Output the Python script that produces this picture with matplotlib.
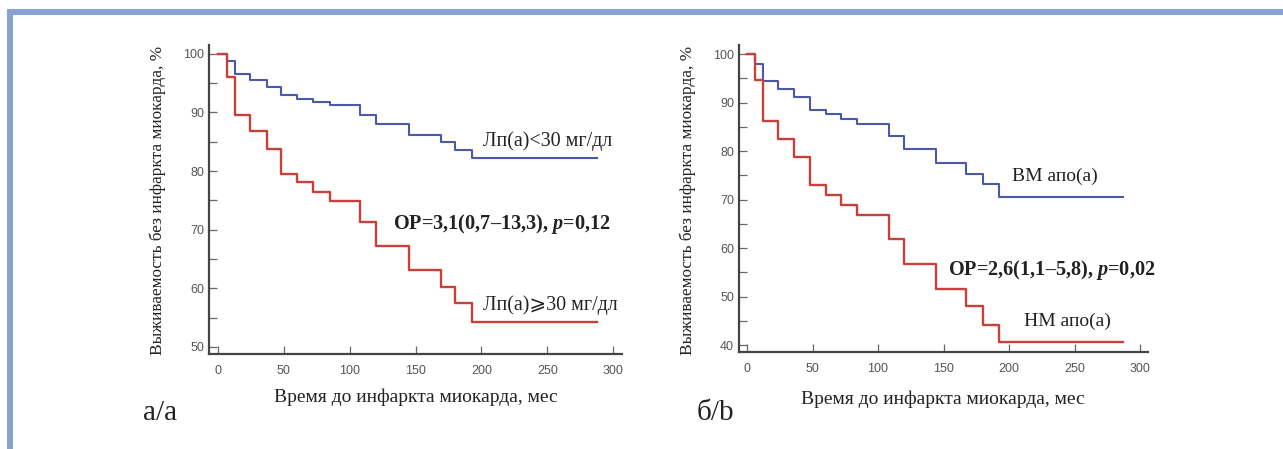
import matplotlib
matplotlib.use("Agg")
import matplotlib.pyplot as plt
from matplotlib.patches import Rectangle
from matplotlib.ticker import MultipleLocator

plt.rcParams["mathtext.fontset"] = "custom"
plt.rcParams["mathtext.it"] = "Liberation Serif:italic:bold"
plt.rcParams["mathtext.rm"] = "Liberation Serif:bold"

# panel a: Lp(a)
t_a = [0, 7, 13, 24, 37, 48, 60, 72, 85, 108, 120, 145, 169, 180, 193, 288]
low_lpa = [100, 98.8, 96.6, 95.5, 94.4, 92.9, 92.3, 91.7, 91.2, 89.6, 88.0, 86.2, 84.9, 83.6, 82.3, 82.3]
high_lpa = [100, 96.0, 89.5, 86.8, 83.8, 79.5, 78.1, 76.5, 74.9, 71.3, 67.2, 63.1, 60.2, 57.5, 54.3, 54.3]

# panel b: apo(a)
t_b = [0, 6, 12, 24, 36, 48, 60, 72, 84, 108, 120, 144, 167, 180, 192, 287]
vm_apo = [100, 97.9, 94.4, 92.9, 91.2, 88.5, 87.7, 86.7, 85.6, 83.2, 80.4, 77.5, 75.3, 73.2, 70.6, 70.6]
nm_apo = [100, 94.6, 86.3, 82.6, 78.9, 73.0, 71.0, 68.9, 66.8, 62.0, 56.8, 51.5, 48.0, 44.2, 40.6, 40.6]

BLUE = "#4a5aa8"
RED = "#c8403a"
SERIF = ["Liberation Serif", "DejaVu Sans"]
TXT = "#222222"

fig = plt.figure(figsize=(12.83, 4.49), dpi=100)

# blue frame
fig.add_artist(Rectangle((7 / 1283, 0), 6 / 1283, 1 - 9 / 449, transform=fig.transFigure,
                         color="#87a2d0", lw=0))
fig.add_artist(Rectangle((7 / 1283, 1 - 15 / 449), 1 - 7 / 1283, 6 / 449, transform=fig.transFigure,
                         color="#87a2d0", lw=0))

ax1 = fig.add_axes([209 / 1283, 1 - 354 / 449, (622 - 209) / 1283, (354 - 45) / 449])
ax2 = fig.add_axes([739 / 1283, 1 - 352 / 449, (1148 - 739) / 1283, (352 - 45) / 449])

ax1.step(t_a, low_lpa, where="post", color=BLUE, lw=1.5)
ax1.step(t_a, high_lpa, where="post", color=RED, lw=1.7)
ax1.set_xlim(-6.8, 306.7)
ax1.set_ylim(48.8, 101.5)
ax1.yaxis.set_major_locator(MultipleLocator(10))
ax1.yaxis.set_minor_locator(MultipleLocator(5))

ax2.step(t_b, vm_apo, where="post", color=BLUE, lw=1.5)
ax2.step(t_b, nm_apo, where="post", color=RED, lw=1.7)
ax2.set_xlim(-6.1, 306)
ax2.set_ylim(38.6, 101.9)
ax2.yaxis.set_major_locator(MultipleLocator(10))
ax2.yaxis.set_minor_locator(MultipleLocator(5))

for ax in (ax1, ax2):
    ax.xaxis.set_major_locator(MultipleLocator(50))
    for s in ("top", "right"):
        ax.spines[s].set_visible(False)
    for s in ("left", "bottom"):
        ax.spines[s].set_color("#444444")
        ax.spines[s].set_linewidth(1.6)
    ax.tick_params(which="both", direction="in", length=6, width=0.9, color="#666666",
                   labelcolor="#555555", labelsize=9)
    ax.tick_params(axis="x", pad=8)
    for lab in ax.get_xticklabels() + ax.get_yticklabels():
        lab.set_family("Liberation Sans")

ax1.text(201, 85.1, "Лп(а)<30 мг/дл", family=SERIF, fontsize=14.4, color=TXT, va="center")
ax1.text(133, 71.0, "ОР=3,1(0,7–13,3), $p$=0,12", family=SERIF, fontsize=14.6,
         fontweight="bold", color=TXT, va="center")
ax1.text(201, 57.2, "Лп(а)⩾30 мг/дл", family=SERIF, fontsize=14.4, color=TXT, va="center")

ax2.text(202, 74.9, "ВМ апо(а)", family=SERIF, fontsize=14, color=TXT, va="center")
ax2.text(153.5, 55.5, "ОР=2,6(1,1–5,8), $p$=0,02", family=SERIF, fontsize=14.6,
         fontweight="bold", color=TXT, va="center")
ax2.text(211, 44.9, "НМ апо(а)", family=SERIF, fontsize=14, color=TXT, va="center")

ylab = "Выживаемость без инфаркта миокарда, %"
fig.text(158 / 1283, 1 - 200 / 449, ylab, rotation=90, family=SERIF, fontsize=12.4,
         color=TXT, ha="center", va="center")
fig.text(688 / 1283, 1 - 200 / 449, ylab, rotation=90, family=SERIF, fontsize=12.4,
         color=TXT, ha="center", va="center")

xlab = "Время до инфаркта миокарда, мес"
fig.text(416 / 1283, 1 - 397 / 449, xlab, family=SERIF, fontsize=14, color=TXT,
         ha="center", va="center")
fig.text(943 / 1283, 1 - 399 / 449, xlab, family=SERIF, fontsize=14, color=TXT,
         ha="center", va="center")

fig.text(143 / 1283, 1 - 413 / 449, "а/а", family=SERIF, fontsize=21, color=TXT, va="center")
fig.text(697 / 1283, 1 - 413 / 449, "б/b", family=SERIF, fontsize=21, color=TXT, va="center")

fig.savefig("out.png", dpi=100)
